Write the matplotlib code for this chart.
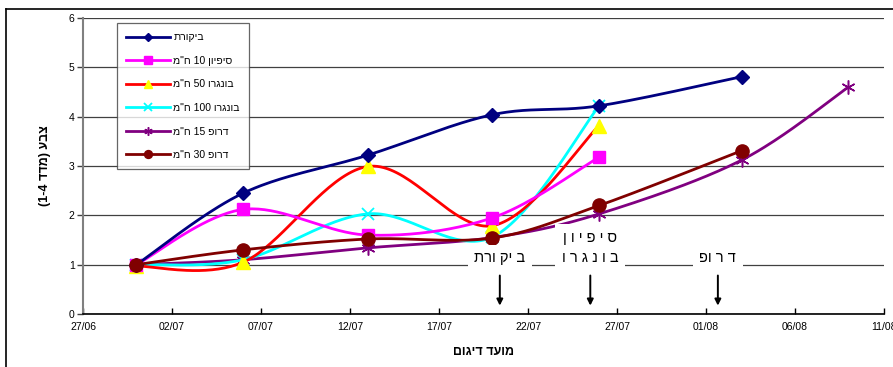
import numpy as np
import matplotlib
matplotlib.use("Agg")
import matplotlib.pyplot as plt
import matplotlib.dates as mdates
from matplotlib.lines import Line2D

plt.rcParams['font.family'] = ['Liberation Sans', 'DejaVu Sans']

# ---------------- data ----------------
dates = ["2005-06-30", "2005-07-06", "2005-07-13", "2005-07-20", "2005-07-26", "2005-08-03", "2005-08-09"]

series_names = ['ביקורת', 'סיפיון 10 ח"מ', 'בונגרו 50 ח"מ', 'בונגרו 100 ח"מ', 'דרופ 15 ח"מ', 'דרופ 30 ח"מ']
control = [1.0, 2.45, 3.22, 4.04, 4.22, 4.81]
sipion10 = [1.0, 2.12, 1.60, 1.95, 3.18]
bungaro50 = [0.97, 1.05, 2.99, 1.79, 3.82]
bungaro100 = [1.0, 1.10, 2.03, 1.56, 4.22]
drop15 = [1.0, 1.10, 1.34, 1.55, 2.03, 3.12, 4.60]
drop30 = [1.0, 1.30, 1.52, 1.54, 2.20, 3.31]

x_tick_dates = ["2005-06-27", "2005-07-02", "2005-07-07", "2005-07-12", "2005-07-17",
                "2005-07-22", "2005-07-27", "2005-08-01", "2005-08-06", "2005-08-11"]
y_ticks = [0, 1, 2, 3, 4, 5, 6]

annot_labels = ['ב יק ורת', 'ס י פ י ו ן\nב ו נ ג ר ו', 'ד ר ופ']
annot_dates = ["2005-07-20 10:00", "2005-07-25 12:00", "2005-08-01 16:00"]

x_label = 'מועד דיגום'
y_label = 'צבע (מדד 1-4)'


def vis(s):
    """Convert logical Hebrew text to visual (LTR) order for matplotlib."""
    out_lines = []
    for line in s.split('\n'):
        tokens = line.split(' ')
        res = []
        for t in reversed(tokens):
            if any('\u0590' <= c <= '\u05ff' for c in t):
                t = t[::-1]
            res.append(t)
        out_lines.append(' '.join(res))
    return '\n'.join(out_lines)


def vis_label(s):
    # visual order with mirrored parentheses: "(1-4 דדמ) עבצ"
    word, rest = s.split(' ', 1)
    inner = rest.strip('()')
    heb, num = inner.split(' ')
    return '(' + num + ' ' + heb[::-1] + ') ' + word[::-1]


def smooth(xs, ys, n=40):
    """Excel-like smoothed line (cardinal Bezier) through points."""
    P = np.column_stack([np.asarray(xs, float), np.asarray(ys, float)])
    m = len(P)
    out = [P[0]]
    for i in range(m - 1):
        p0 = P[i - 1] if i > 0 else P[i]
        p1 = P[i]
        p2 = P[i + 1]
        p3 = P[i + 2] if i + 2 < m else P[i + 1]
        c1 = p1 + (p2 - p0) / 6.0
        c2 = p2 - (p3 - p1) / 6.0
        t = np.linspace(0, 1, n)[1:, None]
        b = ((1 - t) ** 3) * p1 + 3 * ((1 - t) ** 2) * t * c1 + 3 * (1 - t) * t ** 2 * c2 + t ** 3 * p2
        out.extend(b)
    out = np.array(out)
    return out[:, 0], out[:, 1]


def d2n(s):
    return mdates.date2num(np.datetime64(s))


xd = [d2n(d) for d in dates]

fig = plt.figure(figsize=(8.93, 3.67), dpi=100)
ax = fig.add_axes([83 / 893, 1 - 314 / 367, (884 - 83) / 893, (314 - 18) / 367])

styles = [
    dict(color='#000080', marker='D', ms=7.5, mfc='#000080', mec='#000080'),
    dict(color='#FF00FF', marker='s', ms=8.5, mfc='#FF00FF', mec='#FF00FF'),
    dict(color='#FF0000', marker='^', ms=9.5, mfc='#FFFF00', mec='#FFFF00'),
    dict(color='#00FFFF', marker='x', ms=9, mfc='#00FFFF', mec='#00FFFF', mew=1.3),
    dict(color='#800080', marker=(6, 2, 0), ms=10, mfc='#800080', mec='#800080', mew=1.1),
    dict(color='#800000', marker='o', ms=9.5, mfc='#800000', mec='#800000'),
]
data = [control, sipion10, bungaro50, bungaro100, drop15, drop30]
zorders = [8, 7, 6, 5, 4, 9]

for name, vals, st, z in zip(series_names, data, styles, zorders):
    xs = xd[:len(vals)]
    sx, sy = smooth(xs, vals)
    ax.plot(sx, sy, color=st['color'], lw=2.0, zorder=z, solid_capstyle='round')
    ax.plot(xs, vals, linestyle='none', marker=st['marker'], ms=st['ms'],
            mfc=st['mfc'], mec=st['mec'], mew=st.get('mew', 1.0), zorder=z + 0.5)

ax.set_xlim(d2n(x_tick_dates[0]), d2n(x_tick_dates[-1]))
ax.set_ylim(0, 6)
ax.set_xticks([d2n(d) for d in x_tick_dates])
ax.xaxis.set_major_formatter(mdates.DateFormatter('%d/%m'))
ax.set_yticks(y_ticks)
ax.yaxis.grid(True, color='#404040', lw=0.9)
ax.set_axisbelow(True)
for s in ['top', 'right']:
    ax.spines[s].set_visible(False)
ax.spines['left'].set_color('#808080')
ax.spines['left'].set_linewidth(1.5)
ax.spines['bottom'].set_color('black')
ax.spines['bottom'].set_linewidth(1.2)
ax.tick_params(axis='x', direction='in', length=4, labelsize=7.5, pad=6, width=1)
ax.tick_params(axis='y', direction='out', length=4, labelsize=7.5, pad=2, width=1, color='#404040')

ax.set_xlabel(vis(x_label), fontsize=9, fontweight='bold', labelpad=10)
ax.set_ylabel(vis_label(y_label), fontsize=9, fontweight='bold', labelpad=13)

# annotations
for lab, d in zip(annot_labels, annot_dates):
    x = d2n(d)
    ax.text(x, 0.99, vis(lab), ha='center', va='bottom', fontsize=10.5,
            linespacing=1.6, zorder=20,
            bbox=dict(boxstyle='square,pad=0.45', fc='white', ec='none'))
    ax.annotate('', xy=(x, 0.17), xytext=(x, 0.78),
                arrowprops=dict(arrowstyle='-|>', color='black', lw=1.4,
                                mutation_scale=9, shrinkA=0, shrinkB=0),
                zorder=20)

# legend
handles = [Line2D([0], [0], color=st['color'], lw=2.0, marker=st['marker'],
                  ms=st['ms'] * 0.6, mfc=st['mfc'], mec=st['mec'], mew=st.get('mew', 1.0))
           for st in styles]
leg = ax.legend(handles, [vis(n) for n in series_names], loc='upper left',
                bbox_to_anchor=((117 - 83) / 801, 1 - (23 - 18) / 296),
                borderaxespad=0,
                fontsize=7.5, frameon=True, fancybox=False, edgecolor='#404040',
                handlelength=4.2, labelspacing=1.3, borderpad=0.9, handletextpad=0.3)
leg.get_frame().set_linewidth(0.9)
leg.set_zorder(30)

# outer chart border
fig.add_artist(Line2D([6 / 893, 6 / 893], [0, 1 - 9 / 367], color='black', lw=1.2, transform=fig.transFigure))
fig.add_artist(Line2D([6 / 893, 1], [1 - 9 / 367, 1 - 9 / 367], color='black', lw=1.2, transform=fig.transFigure))

fig.savefig('out.png', dpi=100)
